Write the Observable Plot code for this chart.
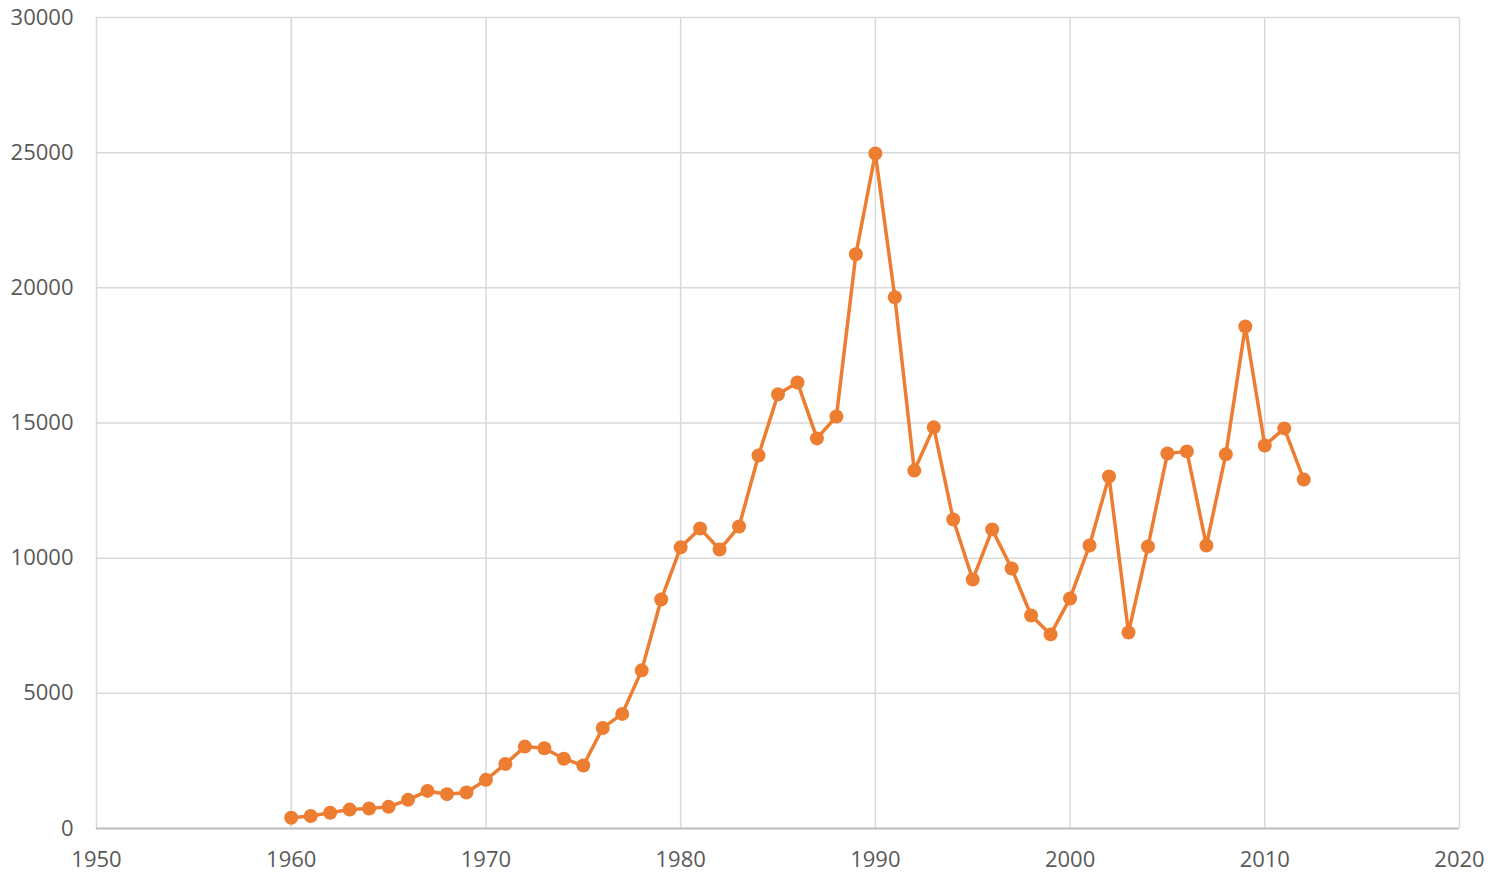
<!DOCTYPE html>
<html>
<head>
<meta charset="utf-8">
<script src="https://cdn.jsdelivr.net/npm/d3@7"></script>
<script src="https://cdn.jsdelivr.net/npm/@observablehq/plot@0.6"></script>
<style>
  html, body { margin: 0; padding: 0; background: #fff; }
  #chart { width: 1497px; height: 874px; }
</style>
</head>
<body>
<div id="chart"></div>
<script>
const years = [1960,1961,1962,1963,1964,1965,1966,1967,1968,1969,
  1970,1971,1972,1973,1974,1975,1976,1977,1978,1979,
  1980,1981,1982,1983,1984,1985,1986,1987,1988,1989,
  1990,1991,1992,1993,1994,1995,1996,1997,1998,1999,
  2000,2001,2002,2003,2004,2005,2006,2007,2008,2009,
  2010,2011,2012];
const values = [400,460,580,700,740,800,1060,1390,1270,1330,
  1800,2390,3030,2970,2580,2330,3720,4240,5850,8470,
  10400,11100,10320,11170,13800,16060,16500,14430,15240,21240,
  24970,19650,13240,14840,11430,9210,11060,9620,7880,7180,
  8510,10470,13020,7250,10430,13870,13950,10470,13840,18570,
  14170,14800,12910];
const xTicks = [1950,1960,1970,1980,1990,2000,2010,2020];
const yTicks = [0,5000,10000,15000,20000,25000,30000];

const data = years.map((y, i) => ({year: y, value: values[i]}));

const chart = Plot.plot({
  width: 1497,
  height: 874,
  marginLeft: 96,
  marginRight: 38,
  marginTop: 17,
  marginBottom: 46,
  style: {fontFamily: "'Open Sans', sans-serif", fontSize: "22px", color: "#595959", background: "#fff"},
  x: {domain: [1950, 2020], ticks: xTicks, tickFormat: d => String(d), label: null},
  y: {domain: [0, 30000], ticks: yTicks, tickFormat: d => String(d), label: null},
  marks: [
    Plot.gridX(xTicks, {stroke: "#d9d9d9", strokeOpacity: 1, strokeWidth: 1.5}),
    Plot.gridY(yTicks, {stroke: "#d9d9d9", strokeOpacity: 1, strokeWidth: 1.5}),
    Plot.ruleY([0], {stroke: "#bfbfbf", strokeWidth: 2}),
    Plot.axisX(xTicks, {tickSize: 0, tickPadding: 23, fontSize: 22, tickFormat: d => String(d), fill: "#595959"}),
    Plot.axisY(yTicks, {tickSize: 0, tickPadding: 23, fontSize: 22, tickFormat: d => String(d), fill: "#595959"}),
    Plot.line(data, {x: "year", y: "value", stroke: "#ED7D31", strokeWidth: 3.5}),
    Plot.dot(data, {x: "year", y: "value", fill: "#ED7D31", r: 7})
  ]
});
document.getElementById("chart").appendChild(chart);
</script>
</body>
</html>
